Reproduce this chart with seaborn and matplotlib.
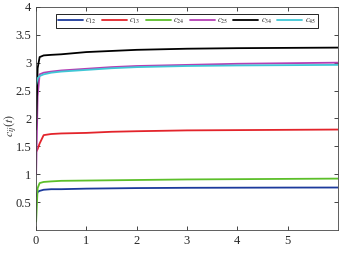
import numpy as np
import pandas as pd
import matplotlib
matplotlib.use("Agg")
import matplotlib.pyplot as plt
import seaborn as sns

t = [0, 0.03, 0.07, 0.15, 0.3, 0.5, 1, 1.5, 2, 3, 4, 5, 6]
c12 = [0.60, 0.68, 0.70, 0.72, 0.73, 0.73, 0.74, 0.745, 0.75, 0.755, 0.757, 0.759, 0.76]
c13 = [1.40, 1.45, 1.55, 1.70, 1.72, 1.73, 1.74, 1.76, 1.77, 1.785, 1.79, 1.795, 1.80]
c24 = [0.15, 0.75, 0.84, 0.86, 0.87, 0.88, 0.885, 0.89, 0.895, 0.905, 0.91, 0.915, 0.92]
c25 = [1.00, 2.40, 2.79, 2.82, 2.84, 2.86, 2.89, 2.92, 2.94, 2.96, 2.98, 2.99, 3.00]
c34 = [1.80, 2.90, 3.10, 3.13, 3.14, 3.15, 3.19, 3.21, 3.23, 3.25, 3.26, 3.265, 3.27]
c45 = [2.60, 2.72, 2.76, 2.79, 2.82, 2.84, 2.87, 2.90, 2.92, 2.94, 2.95, 2.955, 2.96]

labels = ["$c_{12}$", "$c_{13}$", "$c_{24}$", "$c_{25}$", "$c_{34}$", "$c_{45}$"]
colors = ["#1c3a9c", "#e3242b", "#5cbf2a", "#b43fb4", "#000000", "#3fc7d6"]

series = [c12, c13, c24, c25, c34, c45]
df = pd.concat([pd.DataFrame({"t": t, "c": s, "name": lab}) for s, lab in zip(series, labels)])

sns.set_style("ticks")
plt.rcParams["font.family"] = ["Liberation Serif", "DejaVu Serif"]
plt.rcParams["mathtext.fontset"] = "stix"

fig = plt.figure(figsize=(3.44, 2.56), dpi=100)
ax = fig.add_axes([0.105, 0.102, 0.877, 0.871])
sns.lineplot(data=df, x="t", y="c", hue="name", palette=colors, linewidth=1.3, ax=ax)

ax.set_xlim(0, 6)
ax.set_ylim(0, 4)
ax.set_xticks([0, 1, 2, 3, 4, 5])
ax.set_yticks([0.5, 1, 1.5, 2, 2.5, 3, 3.5, 4])
ax.set_yticklabels(["0.5", "1", "1.5", "2", "2.5", "3", "3.5", "4"])
ax.tick_params(direction="in", labelsize=9, length=3, top=True, right=True, width=0.6)
for s in ax.spines.values():
    s.set_linewidth(0.6)
    s.set_color("#444444")
ax.set_xlabel("")
ax.set_ylabel("$c_{ij}(t)$", fontsize=8.5)
ax.yaxis.set_label_coords(-0.058, 0.47)

ax.legend(ncol=6, loc="upper center", bbox_to_anchor=(0.5, 0.985), fontsize=6,
          handlelength=3.0, columnspacing=0.6, handletextpad=0.3, borderpad=0.25,
          frameon=True, fancybox=False, edgecolor="black", framealpha=1)
ax.get_legend().get_frame().set_linewidth(0.6)

fig.savefig("out.png", dpi=100)
